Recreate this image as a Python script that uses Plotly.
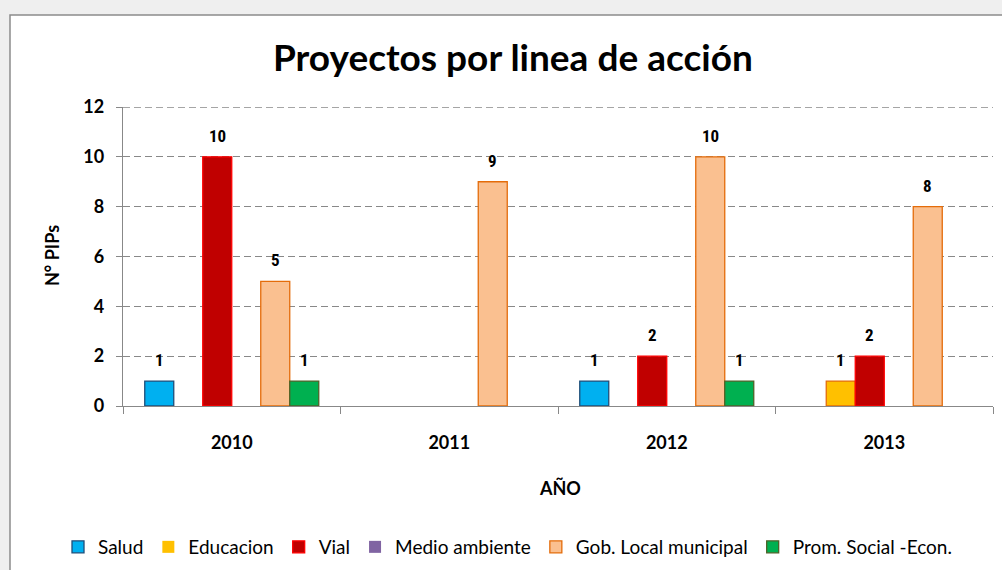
import plotly.graph_objects as go

years = ["2010", "2011", "2012", "2013"]
series_names = ["Salud", "Educacion", "Vial", "Medio ambiente", "Gob. Local municipal", "Prom. Social -Econ."]
salud = [1, 0, 1, 0]
educacion = [0, 0, 0, 1]
vial = [10, 0, 2, 2]
medio_ambiente = [0, 0, 0, 0]
gob_local = [5, 9, 10, 8]
prom_social = [1, 0, 1, 0]
y_ticks = [0, 2, 4, 6, 8, 10, 12]

values = [salud, educacion, vial, medio_ambiente, gob_local, prom_social]
fills = ["#00B0F0", "#FFC000", "#C00000", "#8064A2", "#FAC090", "#00B050"]
borders = ["#1F4E79", "#E46C0A", "#FF0000", "#8064A2", "#E46C0A", "#4F6228"]

FONT = "Lato, Carlito, Calibri, 'Open Sans', sans-serif"
NARROW = "'Liberation Sans Narrow', 'Arial Narrow', 'Roboto Condensed', 'Liberation Sans', Arial, sans-serif"
GRID = "#888888"

fig = go.Figure()
for name, vals, fc, bc in zip(series_names, values, fills, borders):
    fig.add_trace(go.Bar(
        name=name, x=years, y=vals,
        marker=dict(color=fc, line=dict(color=bc, width=[1.3 if v else 0 for v in vals])),
        hoverinfo="skip",
    ))

bargap = 0.2
n = len(series_names)
bw = (1 - bargap) / n

L, R, T, B = 123, 9, 107, 164
W, H = 1002, 570
pw, ph = W - L - R, H - T - B
def px2x(px):
    return (px - L) / pw
def py2y(py):
    return (H - B - py) / ph

annotations = []
for i, vals in enumerate(values):
    off = -(1 - bargap) / 2 + (i + 0.5) * bw
    for j, v in enumerate(vals):
        if v:
            annotations.append(dict(
                x=j + off, y=v, xref="x", yref="y", text=str(v), showarrow=False,
                yanchor="bottom", yshift=9,
                font=dict(family=NARROW, size=17, color="#000000", weight="bold"),
            ))

annotations.append(dict(text="N° PIPs", x=px2x(52), y=py2y(256), xref="paper", yref="paper",
                        xanchor="center", yanchor="middle", showarrow=False, textangle=-90,
                        font=dict(family=FONT, size=18, color="#000", weight="bold")))
annotations.append(dict(text="AÑO", x=px2x(560), y=py2y(488), xref="paper", yref="paper",
                        xanchor="center", yanchor="middle", showarrow=False,
                        font=dict(family=FONT, size=18, color="#000", weight="bold")))
annotations.append(dict(text="Proyectos por linea de acción", x=px2x(513), y=py2y(57),
                        xref="paper", yref="paper", xanchor="center", yanchor="middle", showarrow=False,
                        font=dict(family=FONT, size=37, color="#000", weight="bold")))

shapes = [
    dict(type="rect", xref="paper", yref="paper", layer="below",
         x0=px2x(10), x1=px2x(1010), y0=py2y(580), y1=py2y(15),
         fillcolor="#FFFFFF", line=dict(color="#8C8C8C", width=1.5)),
    dict(type="line", xref="paper", yref="y", layer="below", x0=0, x1=1,
         y0=y_ticks[-1], y1=y_ticks[-1], line=dict(color=GRID, width=1.3, dash="7px,4px")),
]

fig.update_layout(
    width=W, height=H,
    margin=dict(l=L, r=R, t=T, b=B, pad=0, autoexpand=False),
    paper_bgcolor="#EFEFEF",
    plot_bgcolor="rgba(0,0,0,0)",
    barmode="group", bargap=bargap, bargroupgap=0,
    showlegend=True,
    legend=dict(orientation="h", x=px2x(58), xanchor="left", y=py2y(547), yanchor="middle",
                font=dict(family=FONT, size=19, color="#000"), bgcolor="rgba(0,0,0,0)",
                itemwidth=30, tracegroupgap=0, traceorder="normal"),
    annotations=annotations,
    shapes=shapes,
    font=dict(family=FONT, color="#000"),
)
fig.update_xaxes(
    type="category", showline=True, linecolor=GRID, linewidth=1.3,
    ticks="outside", tickson="boundaries", ticklen=7, tickcolor=GRID, tickwidth=1.3,
    tickfont=dict(family=FONT, size=18, color="#000", weight="bold"), ticklabelstandoff=20,
    showgrid=False, mirror=False, automargin=False,
)
fig.update_yaxes(
    range=[0, 12], tickvals=y_ticks, showline=True, linecolor=GRID, linewidth=1.3,
    ticks="outside", ticklen=6, tickcolor=GRID, tickwidth=1.3,
    tickfont=dict(family=FONT, size=18, color="#000", weight="bold"), ticklabelstandoff=8,
    showgrid=True, gridcolor=GRID, griddash="7px,4px", gridwidth=1.3, zeroline=False,
    automargin=False,
)

fig.write_html("out.html", config={"displayModeBar": False},
               post_script="document.body.style.margin='0';document.body.style.overflow='hidden';")
